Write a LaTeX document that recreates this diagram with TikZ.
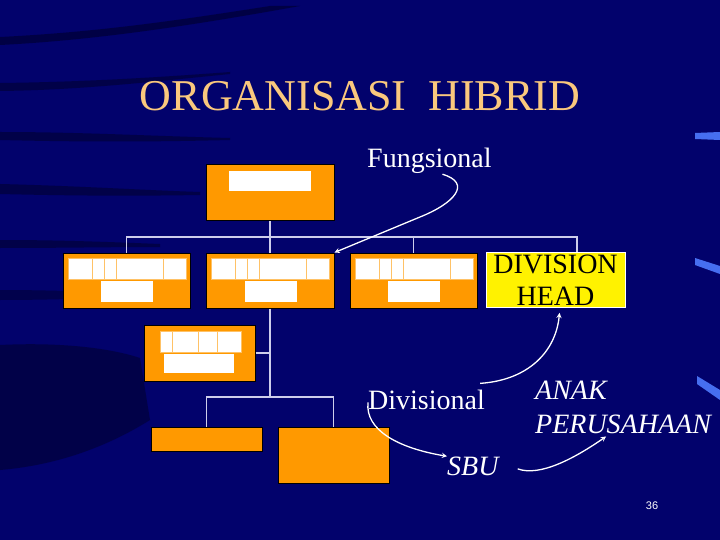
\documentclass[tikz,border=0pt]{standalone}
\usepackage{fontspec}
\setmainfont{Liberation Serif}
\newfontfamily\pagefont{Liberation Sans}
\usepackage{tikz}
\usetikzlibrary{shapes,arrows,positioning,calc}
\definecolor{slidebg}{RGB}{2,2,108}
\definecolor{streak}{RGB}{0,0,30}
\definecolor{boxorange}{RGB}{255,153,0}
\definecolor{titlegold}{RGB}{250,200,125}
\definecolor{treeline}{RGB}{205,205,235}
\definecolor{glint}{RGB}{70,110,240}

\begin{document}
\begin{tikzpicture}[
    x=1pt, y=-1pt,
    unit/.style={rectangle, draw=black, fill=boxorange, line width=1pt, inner sep=0pt},
    cell/.style={fill=white, draw=boxorange!60!white, line width=0.4pt},
    headbox/.style={rectangle, fill=yellow, draw=white, line width=0.6pt, inner sep=0pt, minimum width=139, minimum height=55, align=center, font=\fontsize{28}{32}\selectfont},
    tree/.style={treeline, line width=1.1pt},
    label/.style={white, inner sep=0pt, font=\fontsize{28}{34}\selectfont},
    arrow/.style={->, >=stealth, white, line width=1.3pt}
]
    % Background
    \fill[slidebg] (0,0) rectangle (720,540);
    \fill[streak, opacity=0.5] (0,37) .. controls (100,32) and (180,20) .. (270,6) -- (300,6) .. controls (200,24) and (100,40) .. (0,45) -- cycle;
    \fill[streak, opacity=0.45] (0,83) .. controls (80,82) and (150,78) .. (230,72) -- (230,74) .. controls (150,82) and (80,90) .. (0,91) -- cycle;
    \fill[streak, opacity=0.45] (0,132) .. controls (80,132) and (150,136) .. (230,138) -- (230,140) .. controls (150,142) and (80,142) .. (0,140) -- cycle;
    \fill[streak, opacity=0.45] (0,184) .. controls (80,186) and (140,190) .. (200,192) -- (200,195) .. controls (140,196) and (80,196) .. (0,194) -- cycle;
    \fill[streak, opacity=0.45] (0,240) .. controls (60,240) and (110,242) .. (160,244) -- (160,247) .. controls (110,247) and (60,248) .. (0,248) -- cycle;
    \fill[streak, opacity=0.4] (0,290) .. controls (50,290) and (100,292) .. (150,294) -- (150,297) .. controls (100,298) and (50,300) .. (0,300) -- cycle;
    \fill[streak, opacity=0.45] (0,345) .. controls (60,342) and (110,348) .. (140,358) -- (150,420) .. controls (110,445) and (60,465) .. (0,470) -- cycle;
    \fill[glint] (695,133) -- (720,132) -- (720,140) -- (695,139) -- cycle;
    \fill[glint] (695,258) -- (720,266) -- (720,274) -- (695,265) -- cycle;
    \fill[glint] (697,376) -- (720,390) -- (720,400) -- (697,384) -- cycle;

    % Title
    \node[titlegold, font=\fontsize{44}{50}\selectfont] (title) at (360,96) {ORGANISASI\ \ HIBRID};

    % Units
    \node[unit, minimum width=128, minimum height=56] (top) at (270,193) {};
    \node[unit, minimum width=127, minimum height=55] (unitA) at (126.5,280.5) {};
    \node[unit, minimum width=128, minimum height=55] (unitB) at (270,280.5) {};
    \node[unit, minimum width=127, minimum height=55] (unitC) at (413.5,280.5) {};
    \node[headbox] (head) at (555.5,280) {DIVISION\\HEAD};
    \node[unit, minimum width=111, minimum height=56] (sub) at (199.5,353) {};
    \node[unit, minimum width=111, minimum height=24] (sbuA) at (206.5,439) {};
    \node[unit, minimum width=111, minimum height=56] (sbuB) at (333.5,455) {};

    % Cells
    \fill[white] (229,171) rectangle (311,191);
    \foreach \dx in {0,143.5,287}{
        \draw[cell] (68+\dx,258) rectangle (92+\dx,279);
        \draw[cell] (92+\dx,258) rectangle (104+\dx,279);
        \draw[cell] (104+\dx,258) rectangle (116+\dx,279);
        \draw[cell] (116+\dx,258) rectangle (163+\dx,279);
        \draw[cell] (163+\dx,258) rectangle (186+\dx,279);
        \fill[white] (101+\dx,281) rectangle (153+\dx,302);
    }
    \draw[cell] (160,331) rectangle (172,352);
    \draw[cell] (172,331) rectangle (198,352);
    \draw[cell] (198,331) rectangle (217,352);
    \draw[cell] (217,331) rectangle (241,352);
    \fill[white] (164,354) rectangle (234,373);

    % Tree lines
    \coordinate (bus) at (270,237);
    \coordinate (bus2) at (270,397);
    \draw[tree] (top.south) -- (bus);
    \draw[tree] (unitA.north) |- (bus) -| ([xshift=21.5pt]head.north);
    \draw[tree] (bus) -- (unitB.north);
    \draw[tree] (bus) -| (unitC.north);
    \draw[tree] (unitB.south) -- (bus2);
    \draw[tree] (sub.east) -- (sub.east -| bus2);
    \draw[tree] (sbuA.north) |- (bus2) -| (sbuB.north);

    % Labels
    \node[label, anchor=base west] (fung) at (367,168) {Fungsional};
    \node[label, anchor=base west] (divi) at (368,409) {Divisional};
    \node[label, anchor=base west, font=\fontsize{28}{34}\selectfont\itshape, align=left] (anak) at (535,433) {ANAK\\PERUSAHAAN};
    \node[label, anchor=base west, font=\fontsize{28}{34}\selectfont\itshape] (sbu) at (447,475) {SBU};
    \node[white, font=\pagefont\fontsize{11}{13}\selectfont] (page) at (652,506) {36};

    % Arrows
    \draw[arrow] ([xshift=13pt]fung.south) .. controls (472,183) and (455,203) .. (420,217) -- (unitB.north east);
    \draw[arrow] ([shift={(-5pt,6pt)}]divi.north east) .. controls (530,380) and (556,350) .. ([shift={(4pt,-5pt)}]head.south);
    \draw[arrow] ([yshift=-3pt]divi.west) .. controls (365,430) and (398,448) .. (sbu.north west);
    \draw[arrow] ([shift={(19pt,-3pt)}]sbu.east) .. controls (540,477) and (575,458) .. ([shift={(-17pt,-3pt)}]anak.south);
\end{tikzpicture}
\end{document}
